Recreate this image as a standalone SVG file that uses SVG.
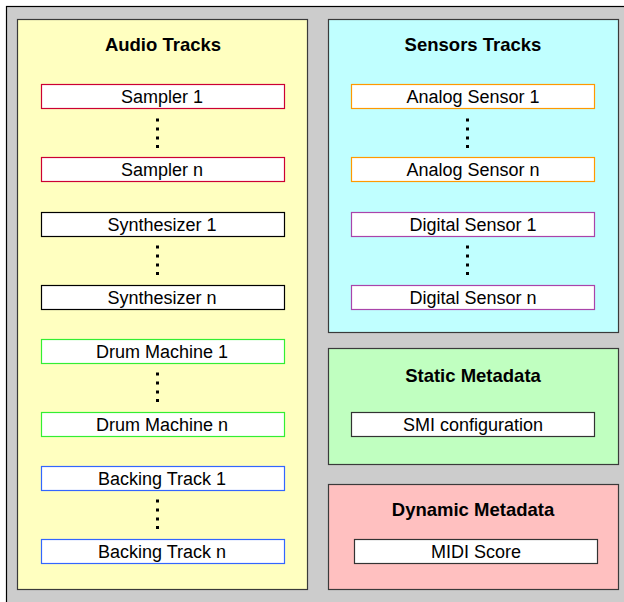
<svg xmlns="http://www.w3.org/2000/svg" width="624" height="602" viewBox="0 0 624 602">
<style>
.panel{stroke:#3a3a3a;stroke-width:1.2}
.node{fill:#ffffff;stroke-width:1.2}
.title{font-family:"Liberation Sans",Arial,sans-serif;font-weight:bold;font-size:18.5px;text-anchor:middle;fill:#000}
.label{font-family:"Liberation Sans",Arial,sans-serif;font-size:18px;text-anchor:middle;fill:#000}
.dot{fill:#000}
</style>
<defs>
<g id="dots">
<rect x="0" y="0" width="3" height="3"/>
<rect x="0" y="9" width="3" height="3"/>
<rect x="0" y="18" width="3" height="3"/>
<rect x="0" y="26.5" width="3" height="3"/>
</g>
</defs>
<rect x="0" y="0" width="624" height="602" fill="#ffffff"/>
<rect x="6.5" y="6.5" width="640" height="620" fill="#cccccc" stroke="#000" stroke-width="1.2"/>

<g id="audio-tracks">
<rect class="panel" x="17.5" y="19.5" width="290" height="570" fill="#ffffc0"/>
<text class="title" x="163" y="51">Audio Tracks</text>
</g>
<g id="sensors-tracks">
<rect class="panel" x="328.5" y="19.5" width="290" height="313" fill="#c0ffff"/>
<text class="title" x="473" y="51">Sensors Tracks</text>
</g>
<g id="static-metadata">
<rect class="panel" x="328.5" y="348.5" width="290" height="116" fill="#c0ffc0"/>
<text class="title" x="473" y="382">Static Metadata</text>
</g>
<g id="dynamic-metadata">
<rect class="panel" x="328.5" y="484.5" width="290" height="105" fill="#ffc0c0"/>
<text class="title" x="473" y="516">Dynamic Metadata</text>
</g>

<g id="sampler-1"><rect class="node" x="41.5" y="84.5" width="243" height="24" stroke="#cc0033"/><text class="label" x="162" y="103">Sampler 1</text></g>
<g id="sampler-n"><rect class="node" x="41.5" y="157.5" width="243" height="24" stroke="#cc0033"/><text class="label" x="162" y="176">Sampler n</text></g>
<g id="synthesizer-1"><rect class="node" x="41.5" y="212.5" width="243" height="24" stroke="#000000"/><text class="label" x="162" y="231">Synthesizer 1</text></g>
<g id="synthesizer-n"><rect class="node" x="41.5" y="285.5" width="243" height="24" stroke="#000000"/><text class="label" x="162" y="304">Synthesizer n</text></g>
<g id="drum-machine-1"><rect class="node" x="41.5" y="339.5" width="243" height="24" stroke="#33ee33"/><text class="label" x="162" y="358">Drum Machine 1</text></g>
<g id="drum-machine-n"><rect class="node" x="41.5" y="412.5" width="243" height="24" stroke="#33ee33"/><text class="label" x="162" y="431">Drum Machine n</text></g>
<g id="backing-track-1"><rect class="node" x="41.5" y="466.5" width="243" height="24" stroke="#3366ff"/><text class="label" x="162" y="485">Backing Track 1</text></g>
<g id="backing-track-n"><rect class="node" x="41.5" y="539.5" width="243" height="24" stroke="#3366ff"/><text class="label" x="162" y="558">Backing Track n</text></g>

<g id="analog-sensor-1"><rect class="node" x="351.5" y="84.5" width="243" height="24" stroke="#ff9900"/><text class="label" x="473" y="103">Analog Sensor 1</text></g>
<g id="analog-sensor-n"><rect class="node" x="351.5" y="157.5" width="243" height="24" stroke="#ff9900"/><text class="label" x="473" y="176">Analog Sensor n</text></g>
<g id="digital-sensor-1"><rect class="node" x="351.5" y="212.5" width="243" height="24" stroke="#aa44aa"/><text class="label" x="473" y="231">Digital Sensor 1</text></g>
<g id="digital-sensor-n"><rect class="node" x="351.5" y="285.5" width="243" height="24" stroke="#aa44aa"/><text class="label" x="473" y="304">Digital Sensor n</text></g>
<g id="smi-configuration"><rect class="node" x="351.5" y="412.5" width="243" height="24" stroke="#333333"/><text class="label" x="473" y="431">SMI configuration</text></g>
<g id="midi-score"><rect class="node" x="354.5" y="539.5" width="243" height="24" stroke="#333333"/><text class="label" x="476" y="558">MIDI Score</text></g>

<g id="ellipses" class="dot">
<use href="#dots" x="156" y="118.5"/>
<use href="#dots" x="156" y="245.5"/>
<use href="#dots" x="156" y="372.5"/>
<use href="#dots" x="156" y="499.5"/>
<use href="#dots" x="466" y="118.5"/>
<use href="#dots" x="466" y="245.5"/>
</g>
</svg>
